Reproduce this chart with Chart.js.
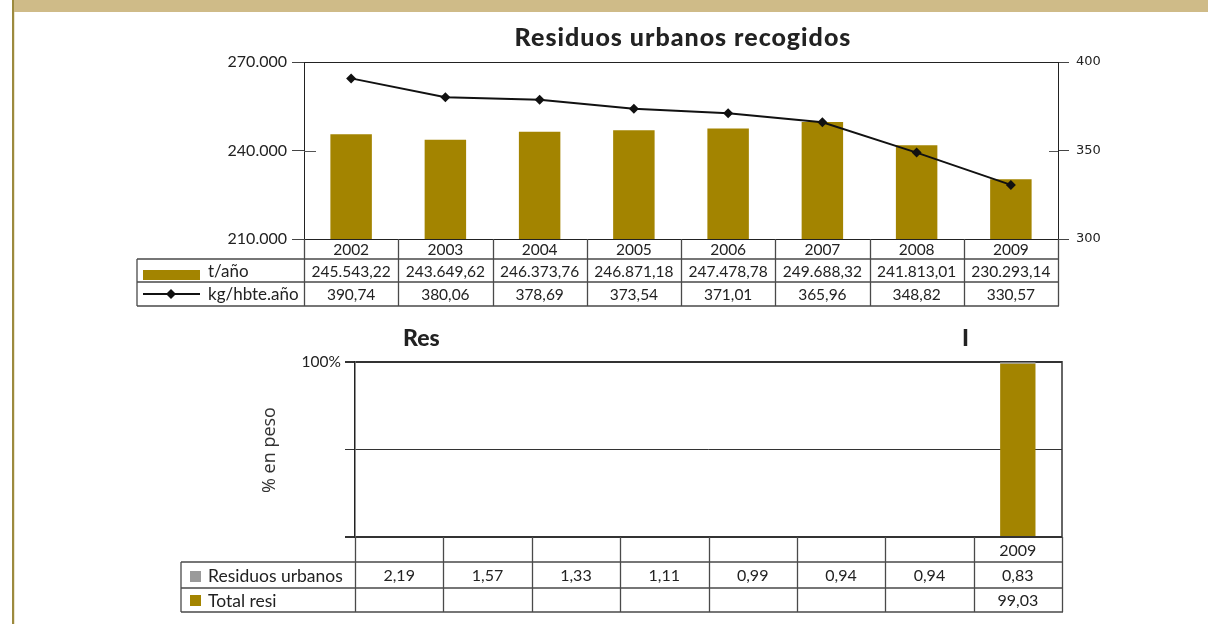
<!DOCTYPE html>
<html>
<head>
<meta charset="utf-8">
<script src="https://cdn.jsdelivr.net/npm/chart.js@4.4.1/dist/chart.umd.min.js"></script>
<style>
  html, body { margin: 0; padding: 0; background: #fff; }
  body { width: 1208px; height: 624px; position: relative; overflow: hidden; }
  #band { position: absolute; left: 13px; top: 0; width: 1195px; height: 12px; background: #CFBB88; }
  #edge { position: absolute; left: 12px; top: 0; width: 2px; height: 624px; background: #9C8A3E; }
  #edge2 { position: absolute; left: 14px; top: 12px; width: 1px; height: 612px; background: #EDE6D0; }
  canvas { position: absolute; left: 0; }
  #c1 { top: 0; }
  #c2 { top: 320px; }
</style>
</head>
<body>
<div id="band"></div>
<div id="edge"></div>
<div id="edge2"></div>
<canvas id="c1" width="1208" height="320"></canvas>
<canvas id="c2" width="1208" height="304"></canvas>
<script>
// ---------- DATA ----------
const years = ['2002', '2003', '2004', '2005', '2006', '2007', '2008', '2009'];
const tonnesPerYear = [245543.22, 243649.62, 246373.76, 246871.18, 247478.78, 249688.32, 241813.01, 230293.14];
const kgPerInhabYear = [390.74, 380.06, 378.69, 373.54, 371.01, 365.96, 348.82, 330.57];
const leftTicks = [210000, 240000, 270000];
const rightTicks = [300, 350, 400];
const topTitle = 'Residuos urbanos recogidos';
const topSeriesNames = ['t/año', 'kg/hbte.año'];

const bottomYearLabels = ['', '', '', '', '', '', '', '2009'];
const urbanPct = [2.19, 1.57, 1.33, 1.11, 0.99, 0.94, 0.94, 0.83];
const totalPct = [null, null, null, null, null, null, null, 99.03];
const pctTicks = [0, 50, 100];
const pctTickLabels = ['', '', '100%'];
const bottomSeriesNames = ['Residuos urbanos', 'Total resi'];
const bottomTitleParts = ['Res', 'I'];
const bottomAxisTitle = '% en peso';

// ---------- helpers ----------
const GOLD = '#A38400';
const GREY = '#9A9A9A';
const LINE = '#4a4a4a';
function fmt(v, dec) {
  if (v === null || v === undefined) return '';
  const s = v.toFixed(dec);
  let [ip, dp] = s.split('.');
  ip = ip.replace(/\B(?=(\d{3})+(?!\d))/g, '.');
  return dp ? ip + ',' + dp : ip;
}
Chart.defaults.font.family = 'Lato';
Chart.defaults.color = '#222';

// ---------- TOP CHART ----------
const topPlugin = {
  id: 'topTable',
  afterDraw(chart) {
    const ctx = chart.ctx, ca = chart.chartArea;
    const L = ca.left, R = ca.right, cw = (R - L) / years.length;
    ctx.save();
    // title
    ctx.fillStyle = '#222';
    ctx.font = '900 25px Lato';
    try { ctx.letterSpacing = '1px'; } catch (e) {}
    ctx.textAlign = 'center';
    ctx.textBaseline = 'alphabetic';
    ctx.fillText(topTitle, 683, 46);
    try { ctx.letterSpacing = '0px'; } catch (e) {}
    // plot frame
    ctx.strokeStyle = '#222';
    ctx.lineWidth = 1;
    ctx.beginPath();
    ctx.moveTo(L, ca.top + 0.5); ctx.lineTo(R, ca.top + 0.5);
    ctx.moveTo(L, ca.bottom + 0.5); ctx.lineTo(R, ca.bottom + 0.5);
    ctx.stroke();
    // inner tick halves for middle ticks
    const ym = chart.scales.y.getPixelForValue(leftTicks[1]);
    const yr = chart.scales.y1.getPixelForValue(rightTicks[1]);
    ctx.strokeStyle = '#555';
    ctx.beginPath();
    ctx.moveTo(L, Math.round(ym) + 0.5); ctx.lineTo(L + 12, Math.round(ym) + 0.5);
    ctx.moveTo(R, Math.round(yr) + 0.5); ctx.lineTo(R - 9, Math.round(yr) + 0.5);
    ctx.stroke();
    // table
    const y0 = ca.bottom, y1 = 259, y2 = 282, y3 = 306, lx = 137;
    ctx.strokeStyle = LINE;
    ctx.lineWidth = 1.3;
    ctx.beginPath();
    [y1, y2, y3].forEach(y => { ctx.moveTo(lx, y); ctx.lineTo(R + 1, y); });
    for (let i = 0; i <= years.length; i++) {
      const xx = Math.round(L + i * cw) + 0.5;
      ctx.moveTo(xx, y0); ctx.lineTo(xx, y3);
    }
    ctx.moveTo(lx, y1); ctx.lineTo(lx, y3);
    ctx.stroke();
    ctx.fillStyle = '#222';
    ctx.font = '15.5px Lato';
    ctx.textAlign = 'center';
    ctx.textBaseline = 'middle';
    years.forEach((yrLab, i) => {
      const cx = L + (i + 0.5) * cw;
      ctx.fillText(yrLab, cx, (y0 + y1) / 2 + 1);
      ctx.fillText(fmt(tonnesPerYear[i], 2), cx, (y1 + y2) / 2 + 1);
      ctx.fillText(fmt(kgPerInhabYear[i], 2), cx, (y2 + y3) / 2 + 1);
    });
    // legend cells
    ctx.fillStyle = GOLD;
    ctx.fillRect(143, 270, 57, 10);
    ctx.strokeStyle = '#111';
    ctx.lineWidth = 2;
    ctx.beginPath();
    ctx.moveTo(143, 294); ctx.lineTo(200, 294);
    ctx.stroke();
    ctx.fillStyle = '#111';
    ctx.beginPath();
    ctx.moveTo(171, 289); ctx.lineTo(176, 294); ctx.lineTo(171, 299); ctx.lineTo(166, 294);
    ctx.closePath(); ctx.fill();
    ctx.fillStyle = '#222';
    ctx.textAlign = 'left';
    ctx.font = '17px Lato';
    ctx.fillText(topSeriesNames[0], 208, (y1 + y2) / 2 + 1);
    ctx.fillText(topSeriesNames[1], 208, (y2 + y3) / 2 + 1);
    ctx.restore();
  }
};

new Chart(document.getElementById('c1'), {
  type: 'bar',
  data: {
    labels: years,
    datasets: [
      {
        type: 'line', label: topSeriesNames[1], data: kgPerInhabYear, yAxisID: 'y1',
        borderColor: '#111', borderWidth: 2, pointStyle: 'rectRot', pointRadius: 5,
        pointBackgroundColor: '#111', pointBorderColor: '#111', pointBorderWidth: 0, order: 0, tension: 0
      },
      {
        type: 'bar', label: topSeriesNames[0], data: tonnesPerYear, yAxisID: 'y',
        backgroundColor: GOLD, barPercentage: 0.44, categoryPercentage: 1, order: 1
      }
    ]
  },
  options: {
    responsive: false, animation: false, devicePixelRatio: 1,
    layout: { padding: { top: 62, bottom: 81, left: 0, right: 0 } },
    plugins: { legend: { display: false }, tooltip: { enabled: false }, title: { display: false } },
    scales: {
      x: { display: false, offset: true },
      y: {
        position: 'left', min: leftTicks[0], max: leftTicks[2],
        afterBuildTicks: s => { s.ticks = leftTicks.map(v => ({ value: v })); },
        ticks: { callback: v => fmt(v, 0), font: { size: 16, family: 'Lato' }, color: '#222', padding: 5 },
        grid: { drawOnChartArea: false, tickLength: 12, color: '#444', lineWidth: 1 },
        border: { display: true, color: '#222', width: 1 },
        afterFit: s => { s.width = 304; }
      },
      y1: {
        position: 'right', min: rightTicks[0], max: rightTicks[2],
        afterBuildTicks: s => { s.ticks = rightTicks.map(v => ({ value: v })); },
        ticks: { font: { size: 13, family: 'DejaVu Sans' }, color: '#222', padding: 7 },
        grid: { drawOnChartArea: false, tickLength: 11, color: '#444', lineWidth: 1 },
        border: { display: true, color: '#222', width: 1 },
        afterFit: s => { s.width = 150; }
      }
    }
  },
  plugins: [topPlugin]
});

// ---------- BOTTOM CHART ----------
const urbanPlotted = urbanPct.map((v, i) => totalPct[i] === null ? null : v);

const bottomPlugin = {
  id: 'bottomTable',
  afterDraw(chart) {
    const ctx = chart.ctx, ca = chart.chartArea;
    const L = ca.left, R = ca.right, cw = (R - L) / years.length;
    ctx.save();
    // partial title
    ctx.fillStyle = '#222';
    ctx.font = '900 23px Lato';
    ctx.textAlign = 'left';
    ctx.textBaseline = 'alphabetic';
    ctx.fillText(bottomTitleParts[0], 403, 26);
    ctx.fillText(bottomTitleParts[1], 962, 26);
    // axis title
    ctx.save();
    ctx.translate(270, 130);
    ctx.rotate(-Math.PI / 2);
    ctx.font = '18px "Open Sans"';
    ctx.fillStyle = '#333';
    ctx.textAlign = 'center';
    ctx.textBaseline = 'middle';
    ctx.fillText(bottomAxisTitle, 0, 0);
    ctx.restore();
    // right border
    ctx.strokeStyle = '#333';
    ctx.lineWidth = 1.5;
    ctx.beginPath();
    ctx.moveTo(R, ca.top - 1); ctx.lineTo(R, ca.bottom);
    ctx.stroke();
    // table
    const y0 = ca.bottom, y1 = 242, y2 = 268, y3 = 292, lx = 181;
    ctx.strokeStyle = LINE;
    ctx.lineWidth = 1.3;
    ctx.beginPath();
    [y1, y2, y3].forEach(y => { ctx.moveTo(lx, y); ctx.lineTo(R + 1, y); });
    for (let i = 0; i <= years.length; i++) {
      const xx = Math.round(L + i * cw) + 0.5;
      ctx.moveTo(xx, y0); ctx.lineTo(xx, y3);
    }
    ctx.moveTo(lx, y1); ctx.lineTo(lx, y3);
    ctx.stroke();
    ctx.fillStyle = '#222';
    ctx.font = '16px Lato';
    ctx.textAlign = 'center';
    ctx.textBaseline = 'middle';
    years.forEach((yrLab, i) => {
      const cx = L + (i + 0.5) * cw;
      ctx.fillText(bottomYearLabels[i], cx, (y0 + y1) / 2 + 1);
      ctx.fillText(fmt(urbanPct[i], 2), cx, (y1 + y2) / 2 + 1);
      ctx.fillText(fmt(totalPct[i], 2), cx, (y2 + y3) / 2 + 1);
    });
    ctx.fillStyle = GREY;
    ctx.fillRect(190, 251, 11, 11);
    ctx.fillStyle = GOLD;
    ctx.fillRect(190, 275, 11, 11);
    ctx.fillStyle = '#222';
    ctx.textAlign = 'left';
    ctx.font = '17.5px Lato';
    ctx.fillText(bottomSeriesNames[0], 208, (y1 + y2) / 2 + 1);
    ctx.fillText(bottomSeriesNames[1], 208, (y2 + y3) / 2 + 1);
    ctx.restore();
  }
};

new Chart(document.getElementById('c2'), {
  type: 'bar',
  data: {
    labels: years,
    datasets: [
      { label: bottomSeriesNames[1], data: totalPct, backgroundColor: GOLD, stack: 's', barPercentage: 0.4, categoryPercentage: 1 },
      { label: bottomSeriesNames[0], data: urbanPlotted, backgroundColor: GREY, stack: 's', barPercentage: 0.4, categoryPercentage: 1 }
    ]
  },
  options: {
    responsive: false, animation: false, devicePixelRatio: 1,
    layout: { padding: { top: 42, bottom: 87, left: 0, right: 146 } },
    plugins: { legend: { display: false }, tooltip: { enabled: false }, title: { display: false } },
    scales: {
      x: { display: false, stacked: true, offset: true },
      y: {
        stacked: true, min: pctTicks[0], max: pctTicks[2],
        afterBuildTicks: s => { s.ticks = pctTicks.map(v => ({ value: v })); },
        ticks: { callback: v => pctTickLabels[pctTicks.indexOf(v)], font: { size: 15.5, family: 'Lato' }, color: '#222', padding: 4 },
        grid: { drawOnChartArea: true, tickLength: 10, color: '#333', lineWidth: c => (c.tick && c.tick.value === 50) ? 1 : 2 },
        border: { display: true, color: '#222', width: 1.5 },
        afterFit: s => { s.width = 355; }
      }
    }
  },
  plugins: [bottomPlugin]
});
</script>
</body>
</html>
